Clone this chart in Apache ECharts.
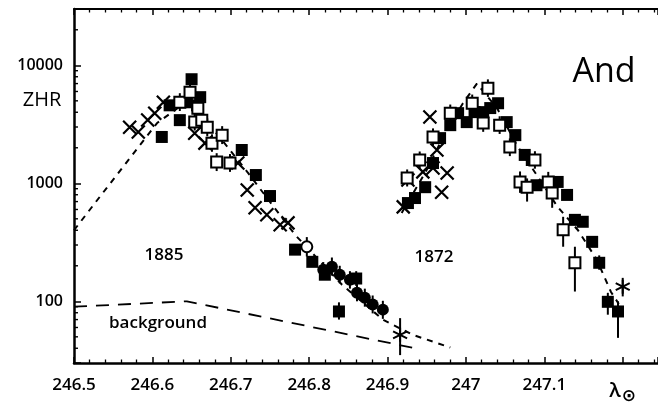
<!DOCTYPE html>
<html><head><meta charset="utf-8">
<script src="https://cdn.jsdelivr.net/npm/echarts@6/dist/echarts.min.js"></script>
<style>html,body{margin:0;padding:0;background:#fff}#c{width:658px;height:403px}</style>
</head><body><div id="c"></div>
<script>
// ---- tick labels ----
const xTickLabels = ['246.5','246.6','246.7','246.8','246.9','247','247.1','λ⊙'];
const yTickLabels = ['100','1000','10000'];
const yMinorTicks = [40,50,60,70,80,90,200,300,400,500,600,700,800,900,2000,3000,4000,5000,6000,7000,8000,9000,20000];

// ---- data: [lambda, ZHR] ----
const filledSquares = [
  [246.612,2470],[246.622,4580],[246.635,3430],[246.644,4860],[246.650,7620],[246.657,4580],[246.661,5370],
  [246.714,1915],[246.732,1175],[246.750,780],[246.782,274],[246.804,216],[246.820,168],[246.860,156],[246.838,82],
  [246.926,680],[246.935,750],[246.948,927],[246.958,1485],[246.967,2415],[246.980,3110],[246.990,3930],
  [247.001,3300],[247.011,4010],[247.022,4010],[247.031,4340],[247.041,4770],[247.052,3300],[247.063,2560],
  [247.075,1740],[247.084,1575],[247.090,963],[247.117,1027],[247.129,797],[247.139,490],[247.149,472],
  [247.161,319],[247.170,212],[247.181,99],[247.194,82]
];
const openSquares = [
  [246.635,4860],[246.648,5910],[246.654,3300],[246.658,4330],[246.663,3430],[246.670,2990],[246.676,2190],
  [246.689,2560],[246.682,1515],[246.699,1485],
  [246.925,1110],[246.941,1575],[246.958,2470],[246.980,3930],[247.008,4770],[247.028,6400],[247.022,3240],
  [247.043,3110],[247.056,2030],[247.069,1027],[247.078,927],[247.088,1575],[247.105,1027],[247.110,826],
  [247.124,404],[247.139,212]
];
const crosses = [
  [246.571,2990],[246.582,2720],[246.594,3440],[246.603,3930],[246.614,4870],[246.654,2660],[246.667,2190],
  [246.709,1485],[246.721,879],[246.731,620],[246.746,541],[246.763,445],[246.773,462],
  [246.920,631],[246.926,1066],[246.945,1250],[246.958,1350],[246.963,1915],[246.954,3640],[246.969,841],[246.976,1222]
];
const filledCircles = [
  [246.818,185],[246.829,196],[246.839,168],[246.852,152],[246.861,118],[246.871,107],[246.881,94],[246.894,85]
];
const openCircles = [[246.797,290]];
const asterisks = [[246.916,52],[247.200,133]];
// error bars: [lambda, low, high]
const errorBars = [
  [246.635,4100,5800],[246.648,5000,7000],[246.658,3650,5150],[246.663,2900,4100],[246.670,2500,3550],
  [246.676,1850,2600],[246.689,2150,3050],[246.682,1270,1800],[246.699,1250,1770],[246.654,2800,3950],
  [246.797,240,350],
  [246.818,160,215],[246.829,165,235],[246.839,142,200],[246.852,128,180],[246.861,100,140],[246.871,90,128],
  [246.881,79,112],[246.894,71,101],
  [246.838,70,98],[246.860,135,180],[247.181,77,118],[247.194,49,100],[247.170,185,245],
  [246.916,35,72],[247.200,110,158],
  [246.925,940,1310],[246.941,1330,1860],[246.958,2080,2920],[246.980,3300,4650],[247.008,4000,5650],
  [247.028,5400,7600],[247.022,2730,3850],[247.043,2620,3700],[247.056,1700,2400],[247.069,830,1260],
  [247.078,700,1100],[247.088,1330,1870],[247.105,830,1250],[247.110,620,1000],[247.124,290,520],[247.139,121,290]
];
// model curves & background
const model1885 = [[246.5,400],[246.533,770],[246.606,3240],[246.645,5000],[246.67,3300],[246.699,1914],
  [246.722,1224],[246.782,366],[246.842,138],[246.894,70],[246.932,52],[246.98,40.6]];
const model1872 = [[246.918,560],[246.95,1300],[246.975,2800],[246.996,4750],[247.014,7000],[247.04,4300],
  [247.065,2100],[247.092,1130],[247.117,630],[247.143,400],[247.167,225],[247.185,120],[247.195,95]];
const background = [[246.5,90],[246.644,100],[246.935,40]];

const FONT = '"Open Sans", Lato, sans-serif';
const W = 600;
const chart = echarts.init(document.getElementById('c'), null, {renderer:'canvas'});

function xLabel(v){
  const i = Math.round((v-246.5)/0.1);
  if (Math.abs(v-(246.5+i*0.1))>1e-6 || i<0 || i>=xTickLabels.length) return '';
  if (xTickLabels[i]==='λ⊙') return '{l|λ}{s|⊙}';
  return xTickLabels[i];
}
function yLabel(v){
  const s = String(Math.round(v));
  return yTickLabels.indexOf(s)>=0 ? s : '';
}
function txt(t,x,y,size,w){
  return {type:'text',x:x,y:y,style:{text:t,align:'center',verticalAlign:'middle',fontSize:size,fontFamily:FONT,fontWeight:w||W,fill:'#000'}};
}
chart.setOption({
  animation:false,
  backgroundColor:'#fff',
  grid:{left:74,right:0,top:9,bottom:40,outerBoundsMode:'none',containLabel:false},
  xAxis:[{
    type:'value',min:246.5,max:247.245,interval:0.1,position:'bottom',
    axisLine:{show:true,onZero:false,lineStyle:{color:'#000',width:2.5}},
    axisTick:{show:true,inside:true,length:6,lineStyle:{color:'#000',width:1.5}},
    minorTick:{show:true,splitNumber:5,length:3.5,lineStyle:{color:'#000',width:1.3}},
    splitLine:{show:false},
    axisLabel:{formatter:xLabel,margin:14,color:'#000',fontFamily:FONT,fontWeight:W,fontSize:17,
      rich:{l:{fontSize:20,fontFamily:FONT,fontWeight:W,color:'#000'},s:{fontSize:17,color:'#000',fontFamily:'"DejaVu Sans"',padding:[11,0,0,1]}}}
  },{
    type:'value',min:246.5,max:247.245,interval:0.1,position:'top',
    axisLine:{show:true,onZero:false,lineStyle:{color:'#000',width:2}},
    axisTick:{show:true,inside:true,length:6,lineStyle:{color:'#000',width:1.5}},
    minorTick:{show:true,splitNumber:5,length:3.5,lineStyle:{color:'#000',width:1.3}},
    splitLine:{show:false},axisLabel:{show:false}
  }],
  yAxis:{
    type:'log',logBase:10,min:30,max:30000,
    axisLine:{show:true,lineStyle:{color:'#000',width:2.5}},
    axisTick:{show:true,inside:true,length:7,lineStyle:{color:'#000',width:1.5}},
    splitLine:{show:false},
    axisLabel:{formatter:yLabel,margin:11,color:'#000',fontFamily:FONT,fontWeight:W,fontSize:16}
  },
  graphic:[
    txt('ZHR',42,100,20,400),
    txt('And',604,72,34,400),
    txt('1885',164,255,17),
    txt('1872',434,257,17),
    txt('background',158,323,17)
  ],
  series:[
    {type:'custom',name:'yminor',data:yMinorTicks.map(v=>[246.5,v]),z:3,silent:true,clip:false,
      renderItem:function(params,api){
        const p = api.coord([api.value(0),api.value(1)]);
        return {type:'line',shape:{x1:p[0],y1:p[1],x2:p[0]+4,y2:p[1]},style:{stroke:'#000',lineWidth:1.4}};
      }},
    {type:'line',data:background,showSymbol:false,symbol:'none',z:2,
      lineStyle:{color:'#000',width:1.8,type:[13,9]}},
    {type:'line',data:model1885,showSymbol:false,symbol:'none',z:2,
      lineStyle:{color:'#000',width:2,type:[6,6]}},
    {type:'line',data:model1872,showSymbol:false,symbol:'none',z:2,
      lineStyle:{color:'#000',width:2,type:[6,6]}},
    {type:'custom',name:'err',data:errorBars,z:3,silent:true,
      renderItem:function(params,api){
        const a = api.coord([api.value(0),api.value(1)]);
        const b = api.coord([api.value(0),api.value(2)]);
        return {type:'line',shape:{x1:a[0],y1:a[1],x2:b[0],y2:b[1]},style:{stroke:'#000',lineWidth:2}};
      }},
    {type:'scatter',data:crosses,symbol:'path://M0,0L10,10M10,0L0,10',symbolSize:13,z:4,
      itemStyle:{color:'none',borderColor:'#000',borderWidth:2.2,opacity:1}},
    {type:'scatter',data:asterisks,symbol:'path://M5,0L5,10M0.7,2.5L9.3,7.5M0.7,7.5L9.3,2.5',symbolSize:14,z:4,
      itemStyle:{color:'none',borderColor:'#000',borderWidth:2,opacity:1}},
    {type:'scatter',data:filledSquares,symbol:'rect',symbolSize:12,z:5,itemStyle:{color:'#000',opacity:1}},
    {type:'scatter',data:openSquares,symbol:'rect',symbolSize:11,z:6,
      itemStyle:{color:'#fff',borderColor:'#000',borderWidth:2,opacity:1}},
    {type:'scatter',data:filledCircles,symbol:'circle',symbolSize:12,z:5,itemStyle:{color:'#000',opacity:1}},
    {type:'scatter',data:openCircles,symbol:'circle',symbolSize:11,z:6,
      itemStyle:{color:'#fff',borderColor:'#000',borderWidth:2,opacity:1}}
  ]
});
</script></body></html>
